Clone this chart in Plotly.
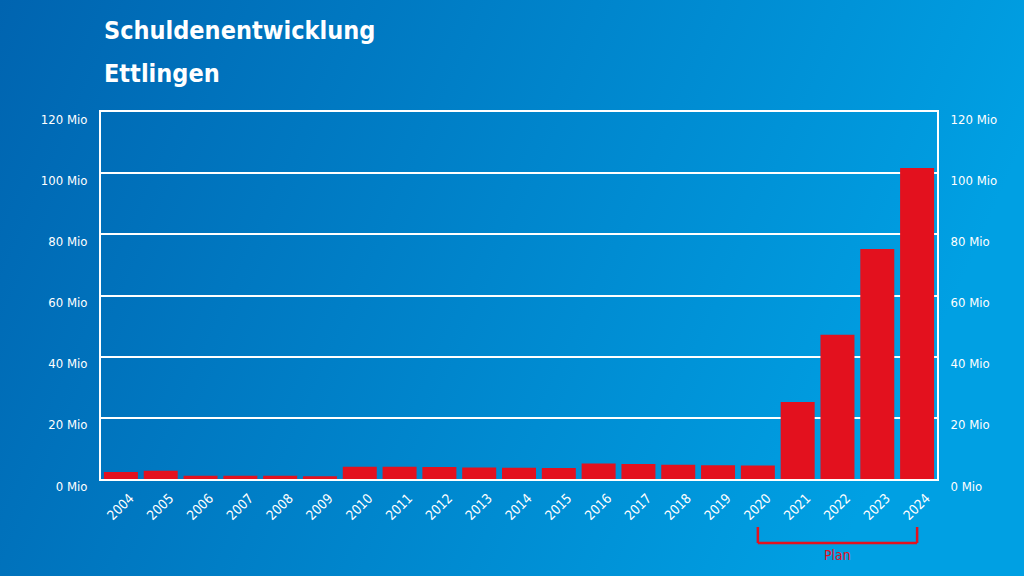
import base64
import plotly.graph_objects as go

years = [str(y) for y in range(2004, 2025)]
debt_mio = [2.3, 2.7, 1.1, 1.1, 1.1, 0.9, 4.0, 4.0, 3.9, 3.8, 3.7, 3.6,
            5.1, 4.9, 4.7, 4.5, 4.4, 25.2, 47.2, 75.2, 101.7]
tick_vals = [0, 20, 40, 60, 80, 100, 120]
tick_text = [f"{v} Mio" for v in tick_vals]
title_lines = ["Schuldenentwicklung", "Ettlingen"]
plan_label = "Plan"
plan_start, plan_end = "2020", "2024"

FONT = "DejaVu Sans Condensed, Liberation Sans Narrow, Roboto, sans-serif"
W, H = 1024, 576
ML, MR, MT, MB = 101, 87, 112, 97
PW, PH = W - ML - MR, H - MT - MB

svg = (
    '<svg xmlns="http://www.w3.org/2000/svg" width="1024" height="576">'
    '<defs><linearGradient id="g" x1="0" y1="0" x2="1" y2="0.25">'
    '<stop offset="0" stop-color="#0064B0"/>'
    '<stop offset="1" stop-color="#00A0E3"/>'
    '</linearGradient></defs>'
    '<rect width="1024" height="576" fill="url(#g)"/></svg>'
)
bg_uri = "data:image/svg+xml;base64," + base64.b64encode(svg.encode()).decode()

fig = go.Figure()
fig.add_trace(go.Bar(x=years, y=debt_mio, marker=dict(color="#E3111E", line=dict(width=0)),
                     hoverinfo="x+y"))
fig.add_trace(go.Scatter(x=years, y=debt_mio, yaxis="y2", mode="lines",
                         line=dict(width=0), hoverinfo="skip", showlegend=False))

axis_common = dict(range=[0, 120], tickvals=tick_vals, ticktext=tick_text,
                   tickfont=dict(family=FONT, size=13, color="white"),
                   showline=True, linecolor="white", linewidth=2, zeroline=False,
                   ticks="", ticklabelstandoff=9, ticklabelshift=7, fixedrange=True)

fig.update_layout(
    width=W, height=H,
    margin=dict(l=ML, r=MR, t=MT, b=MB, pad=0),
    paper_bgcolor="#0064B0",
    plot_bgcolor="rgba(0,0,0,0)",
    showlegend=False,
    bargap=0.146,
    xaxis=dict(type="category", tickangle=-45, showline=True, linecolor="white",
               linewidth=2, mirror=True, showgrid=False, ticks="",
               ticklabelshift=9, ticklabelstandoff=4,
               tickfont=dict(family=FONT, size=13.5, color="white")),
    yaxis=dict(**axis_common, showgrid=True, gridcolor="white", gridwidth=2, side="left"),
    yaxis2=dict(**axis_common, overlaying="y", side="right", showgrid=False),
    images=[dict(source=bg_uri, xref="paper", yref="paper",
                 x=-ML / PW, y=1 + MT / PH, sizex=W / PW, sizey=H / PH,
                 sizing="stretch", layer="below", xanchor="left", yanchor="top")],
)

i0, i1 = years.index(plan_start), years.index(plan_end)
yb_top, yb_bot = -(527 - (MT + PH)) / PH, -(543 - (MT + PH)) / PH
red = "#E3111E"
for x0, y0, x1, y1 in [(i0, yb_top, i0, yb_bot), (i0, yb_bot, i1, yb_bot), (i1, yb_bot, i1, yb_top)]:
    fig.add_shape(type="line", xref="x", yref="paper", x0=x0, x1=x1, y0=y0, y1=y1,
                  line=dict(color=red, width=2.5))
fig.add_annotation(x=(i0 + i1) / 2, xref="x", y=-(555 - (MT + PH)) / PH, yref="paper",
                   yanchor="middle", text=plan_label, showarrow=False,
                   font=dict(family=FONT, size=14, color=red))

for k, line in enumerate(title_lines):
    fig.add_annotation(x=(102 - ML) / PW, xref="paper", y=1 + (MT - 14 - 43 * k) / PH,
                       yref="paper", xanchor="left", yanchor="top", showarrow=False,
                       text=f"<b>{line}</b>",
                       font=dict(family=FONT, size=25, color="white"))

fig.write_html("out.html", config={"displayModeBar": False},
               post_script="document.body.style.margin='0';")
